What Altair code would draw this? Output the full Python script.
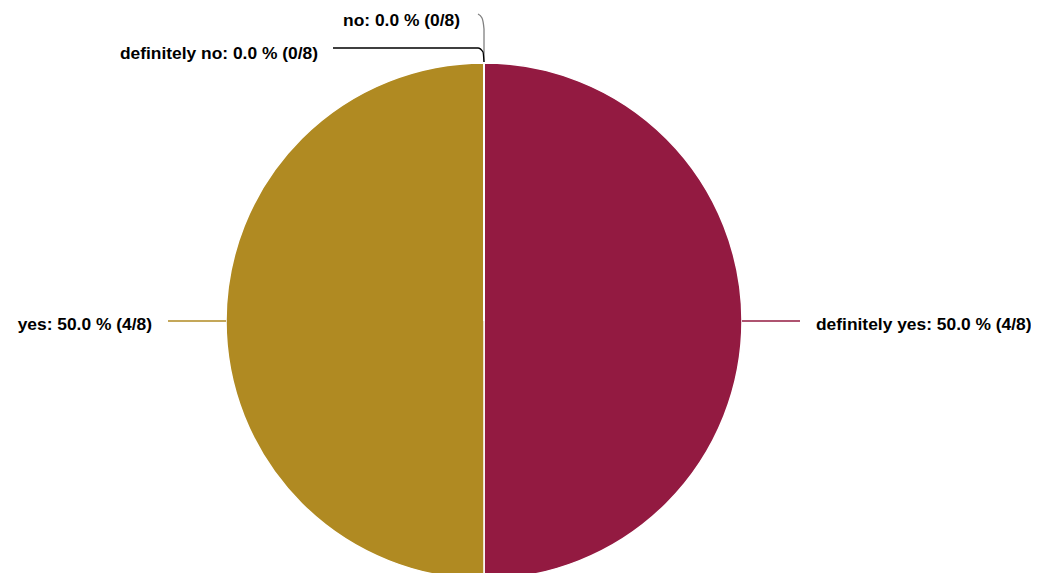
import math
import altair as alt
import pandas as pd

categories = ["definitely yes", "yes", "no", "definitely no"]
counts = [4, 4, 0, 0]
colors = ["#931A41", "#B08A22", "#808080", "#000000"]

total = sum(counts)
W, H = 1023, 565
CX, CY = 476, 313          # pie centre in chart pixels
R = 258                    # pie radius
LINE_OUT = 58              # leader line length
TEXT_GAP = 16              # gap between leader end and text

# slice table
pie = pd.DataFrame({
    "cat": categories,
    "count": counts,
    "order": list(range(len(categories))),
})

# label layout (relative to pie centre, y up)
rows, lines = [], []
cum = 0
zero_k = 0
for i, (c, n) in enumerate(zip(categories, counts)):
    pct = 100.0 * n / total
    label = f"{c}: {pct:.1f} % ({n}/{total})"
    mid = 2 * math.pi * (cum + n / 2) / total
    cum += n
    sx, sy = math.sin(mid), math.cos(mid)
    if n > 0:
        r_line = R + LINE_OUT
        r_text = R + LINE_OUT + TEXT_GAP
        pts = [(R * sx, R * sy), (r_line * sx, r_line * sy)]
        tx, ty = r_text * sx, r_text * sy
        align = "left" if sx > 0 else "right"
    else:
        # zero slices are stacked above the top of the pie
        if zero_k == 0:
            pts = [(0, R + 1), (0, R + 34), (-2, R + 45), (-6, R + 49)]
            tx, ty = -24, R + 46
        else:
            pts = [(0, R + 1), (-1, R + 11), (-6, R + 15), (-151, R + 15)]
            tx, ty = -166, R + 13
        align = "right"
        zero_k += 1
    rows.append({"cat": c, "label": label, "x": tx, "y": ty, "align": align})
    for j, (px, py) in enumerate(pts):
        lines.append({"cat": c, "x": px, "y": py, "k": j})

labels = pd.DataFrame(rows)
leaders = pd.DataFrame(lines)

color_scale = alt.Scale(domain=categories, range=colors)
xs = alt.Scale(domain=[-CX, W - CX], range=[0, W], nice=False, zero=False)
ys = alt.Scale(domain=[CY - H, CY], range=[H, 0], nice=False, zero=False)

arcs = alt.Chart(pie).mark_arc(
    outerRadius=R, stroke="white", strokeWidth=1.5
).encode(
    theta=alt.Theta("count:Q", stack=True),
    color=alt.Color("cat:N", scale=color_scale, legend=None),
    order=alt.Order("order:Q"),
    x=alt.value(CX),
    y=alt.value(CY),
)

lead = alt.Chart(leaders).mark_line(strokeWidth=1.3, interpolate="monotone").encode(
    x=alt.X("x:Q", scale=xs, axis=None),
    y=alt.Y("y:Q", scale=ys, axis=None),
    detail="cat:N",
    order="k:Q",
    color=alt.Color("cat:N", scale=color_scale, legend=None),
)

def text_layer(align):
    return alt.Chart(labels[labels["align"] == align]).mark_text(
        align=align, baseline="middle", dy=4, font="Liberation Sans",
        fontWeight="bold", fontSize=17.4, color="black"
    ).encode(
        x=alt.X("x:Q", scale=xs, axis=None),
        y=alt.Y("y:Q", scale=ys, axis=None),
        text="label:N",
    )

chart = alt.layer(arcs, lead, text_layer("left"), text_layer("right")).properties(
    width=W, height=H, padding=0, autosize=alt.AutoSizeParams(type="none")
).configure_view(stroke=None)

chart.save("out.html", embed_options={"renderer": "svg", "actions": False})
